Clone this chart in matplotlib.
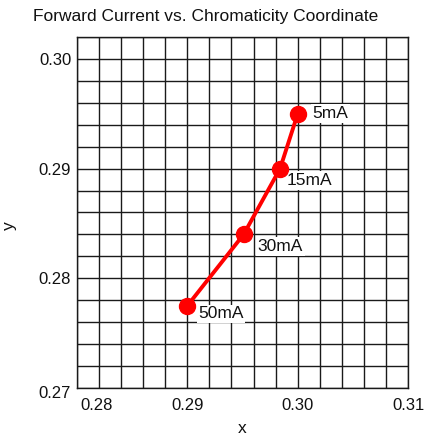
import matplotlib
matplotlib.use("Agg")
import matplotlib.pyplot as plt
from matplotlib.transforms import ScaledTranslation
import numpy as np

plt.rcParams['font.family'] = ['Liberation Sans', 'DejaVu Sans']

currents = ["5mA", "15mA", "30mA", "50mA"]
x_vals = [0.3000, 0.2984, 0.2951, 0.2900]
y_vals = [0.2950, 0.2900, 0.2840, 0.2775]
label_offsets = [(15, 0), (7, -12), (14, -12), (11, -8)]  # pixels

x_ticks = [0.28, 0.29, 0.30, 0.31]
x_tick_labels = ["0.28", "0.29", "0.30", "0.31"]
y_ticks = [0.27, 0.28, 0.29, 0.30]
y_tick_labels = ["0.27", "0.28", "0.29", "0.30"]

fig = plt.figure(figsize=(4.25, 4.4), dpi=100)
ax = fig.add_axes([0.1805, 0.1175, 0.9607 - 0.1805, 0.9166 - 0.1175])

ax.set_xlim(0.28, 0.31)
ax.set_ylim(0.27, 0.302)

grid_x = np.arange(0.28, 0.3101, 0.002)
grid_y = np.arange(0.27, 0.3021, 0.002)
for gx in grid_x:
    ax.axvline(gx, color='#1a1a1a', lw=1.0, zorder=1)
for gy in grid_y:
    ax.axhline(gy, color='#1a1a1a', lw=1.0, zorder=1)

ax.plot(x_vals, y_vals, color='#ff0000', lw=2.8, marker='o', ms=11.5,
        markeredgecolor='#ff0000', zorder=4, clip_on=False)

for lab, xv, yv, (dx, dy) in zip(currents, x_vals, y_vals, label_offsets):
    ax.annotate(lab, (xv, yv), xytext=(dx, dy), textcoords='offset pixels',
                ha='left', va='center', fontsize=12.5, color='#111111',
                bbox=dict(boxstyle='square,pad=0.1', fc='white', ec='none'),
                zorder=3)

ax.set_xticks(x_ticks)
ax.set_xticklabels(x_tick_labels)
ax.set_yticks(y_ticks)
ax.set_yticklabels(y_tick_labels)
ax.tick_params(axis='both', length=0, labelsize=12, colors='#111111')
ax.tick_params(axis='x', pad=7)
ax.tick_params(axis='y', pad=4)

for s in ax.spines.values():
    s.set_color('#1a1a1a')
    s.set_linewidth(1.0)

# shift first x label right like the reference
fig.canvas.draw()
xl = ax.get_xticklabels()
xl[0].set_ha('left')
xl[0].set_transform(xl[0].get_transform() + ScaledTranslation(4/100, 0, fig.dpi_scale_trans))
yl = ax.get_yticklabels()
yl[0].set_transform(yl[0].get_transform() + ScaledTranslation(0, -4/100, fig.dpi_scale_trans))

ax.set_xlabel("x", fontsize=12.5, color='#111111', labelpad=6)
ax.set_ylabel("y", fontsize=12.5, color='#111111')
ax.yaxis.set_label_coords(-0.18, 0.464)
fig.text(206 / 425, 1 - 17 / 440, "Forward Current vs. Chromaticity Coordinate",
         fontsize=12.5, color='#111111', ha='center', va='center')

fig.savefig("out.png", dpi=100)
